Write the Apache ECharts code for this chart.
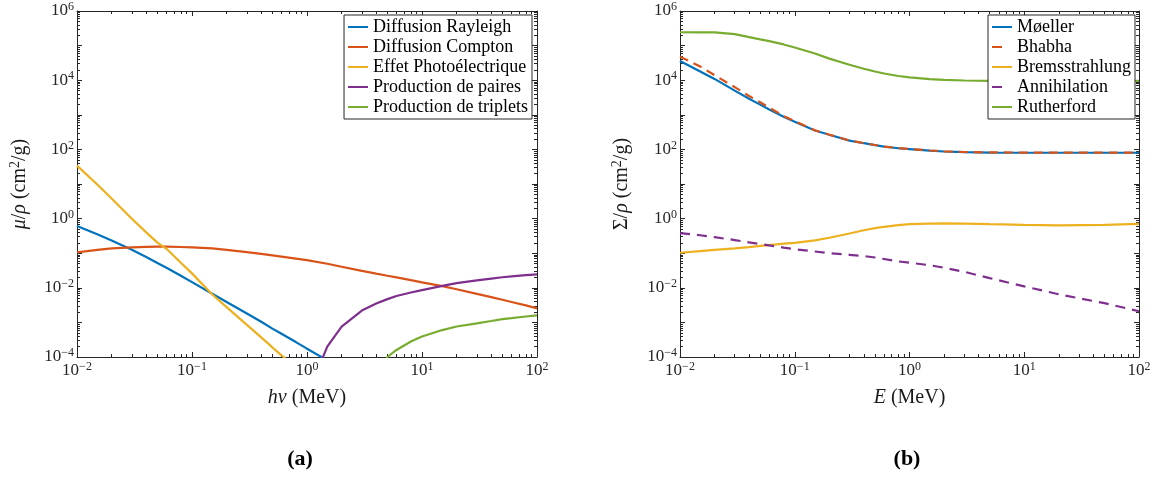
<!DOCTYPE html>
<html><head><meta charset="utf-8">
<script src="https://cdn.jsdelivr.net/npm/echarts@6/dist/echarts.min.js"></script>
<style>html,body{margin:0;padding:0;background:#fff}#c{width:1158px;height:477px}</style>
</head><body><div id="c"></div>
<script>
// ---------- Data: panel (a) photons, mu/rho (cm^2/g) vs h nu (MeV) ----------
const rayleighE = [0.01,0.015,0.02,0.03,0.04,0.05,0.06,0.08,0.1,0.15,0.2,0.3,0.4,0.5,0.6,0.8,1,1.5];
const rayleigh  = [0.61,0.353,0.232,0.126,0.078,0.052,0.038,0.0223,0.0146,6.7e-3,3.9e-3,1.8e-3,1.04e-3,6.6e-4,4.7e-4,2.7e-4,1.74e-4,8e-5];
const comptonE  = [0.01,0.015,0.02,0.03,0.04,0.05,0.06,0.08,0.1,0.15,0.2,0.3,0.4,0.5,0.6,0.8,1,1.5,2,3,4,5,6,8,10,15,20,30,40,50,60,80,100];
const compton   = [0.106,0.125,0.137,0.148,0.152,0.154,0.154,0.151,0.148,0.137,0.125,0.108,0.096,0.087,0.080,0.070,0.063,0.0495,0.0407,0.031,0.0257,0.0223,0.020,0.0166,0.0144,0.0112,9.1e-3,6.7e-3,5.4e-3,4.5e-3,3.9e-3,3.1e-3,2.55e-3];
const photoE    = [0.01,0.015,0.02,0.03,0.04,0.05,0.06,0.08,0.1,0.15,0.2,0.3,0.4,0.5,0.6,0.8];
const photo     = [34,9.7,3.8,0.99,0.40,0.202,0.134,0.053,0.0261,6.4e-3,2.75e-3,8.5e-4,3.7e-4,1.9e-4,1.12e-4,4.8e-5];
const pairE     = [1.25,1.5,2,3,4,5,6,8,10,15,20,30,40,50,60,80,100];
const pair      = [4.5e-5,2.0e-4,7.5e-4,2.2e-3,3.5e-3,4.7e-3,5.8e-3,7.3e-3,8.6e-3,0.0114,0.0137,0.0164,0.0185,0.0202,0.0214,0.0232,0.0245];
const tripletE  = [4,5,6,8,10,15,20,30,40,50,60,80,100];
const triplet   = [3e-5,1.0e-4,1.6e-4,2.8e-4,3.9e-4,6.0e-4,7.6e-4,9.4e-4,1.1e-3,1.25e-3,1.33e-3,1.48e-3,1.6e-3];
const namesA    = ['Diffusion Rayleigh','Diffusion Compton','Effet Photoélectrique','Production de paires','Production de triplets'];

// ---------- Data: panel (b) electrons, Sigma/rho (cm^2/g) vs E (MeV) ----------
const energyB    = [0.01,0.015,0.02,0.03,0.04,0.05,0.06,0.08,0.1,0.15,0.2,0.3,0.4,0.5,0.6,0.8,1,1.5,2,3,5,10,20,50,100];
const moller     = [3.6e4,1.79e4,1.09e4,5.0e3,2.9e3,1.97e3,1.43e3,877,630,351,264,180,151,133,120,108,102,92,87,83,81,80,80,80,80];
const bhabha     = [4.8e4,2.5e4,1.4e4,6.3e3,3.5e3,2.3e3,1.6e3,920,660,355,266,181,152,134,121,109,103,93,88,84,82,81,81,81,81];
const brems      = [0.103,0.115,0.124,0.137,0.150,0.163,0.172,0.188,0.20,0.235,0.28,0.37,0.46,0.53,0.58,0.65,0.69,0.72,0.73,0.72,0.69,0.66,0.64,0.655,0.70];
const annihil    = [0.38,0.33,0.29,0.24,0.205,0.185,0.168,0.145,0.13,0.112,0.10,0.09,0.083,0.075,0.068,0.058,0.053,0.045,0.038,0.029,0.019,0.011,0.0065,0.0036,0.0021];
const rutherford = [2.43e5,2.42e5,2.4e5,2.14e5,1.75e5,1.51e5,1.35e5,1.08e5,8.8e4,5.9e4,4.2e4,2.8e4,2.15e4,1.78e4,1.56e4,1.32e4,1.2e4,1.08e4,1.02e4,9.8e3,9.6e3,9.5e3,9.5e3,9.5e3,9.5e3];
const namesB     = ['Møeller','Bhabha','Bremsstrahlung','Annihilation','Rutherford'];

// tick exponents
const xExpMin = -2, xExpMax = 2;
const yExpMin = -4, yExpMax = 6;

// ---------- styling ----------
const FONT = 'Liberation Serif';
const AX = '#262626';
const COLORS = ['#0072BD','#D95319','#EDB120','#7E2F8E','#77AC30'];
const LW = 2.2;
const DASH_B = [9,6], DASH_A = [10,7];

function pairs(xs, ys){ return xs.map((x,i)=>[x, ys[i]]); }
function expText(e){ return e < 0 ? '\u2212' + (-e) : String(e); }
function xLabel(v){ const e = Math.round(v); return '{b|10}{s|' + expText(e) + '}'; }
function yLabel(v){ const e = Math.round(v); return (e % 2 === 0) ? '{b|10}{s|' + expText(e) + '}' : ''; }
function minorTicks(a, b){ const out=[]; for(let d=a; d<b; d++) for(let k=2;k<=9;k++) out.push(d+Math.log10(k)); return out; }

const labelRich = {
  b:{fontFamily:FONT, fontSize:17, color:AX, lineHeight:20, verticalAlign:'middle'},
  s:{fontFamily:FONT, fontSize:12, color:AX, lineHeight:12, verticalAlign:'top'}
};
const nameStyle = {
  fontFamily:FONT, fontSize:20, color:'#1a1a1a', lineHeight:24,
  rich:{
    i:{fontFamily:FONT, fontSize:20, fontStyle:'italic', color:'#1a1a1a', lineHeight:24, verticalAlign:'middle'},
    n:{fontFamily:FONT, fontSize:20, color:'#1a1a1a', lineHeight:24, verticalAlign:'middle'},
    s:{fontFamily:FONT, fontSize:14, color:'#1a1a1a', lineHeight:14, verticalAlign:'top'}
  }
};
const lineS = {color:AX, width:1};

function axesFor(dim, g, name, nameGap){
  const isX = dim === 'x';
  const lo = isX ? xExpMin : yExpMin, hi = isX ? xExpMax : yExpMax;
  const p1 = isX ? 'bottom' : 'left', p2 = isX ? 'top' : 'right';
  const minors = minorTicks(lo, hi);
  const base = {type:'value', gridIndex:g, min:lo, max:hi, splitLine:{show:false}};
  return [
    {type:'log', logBase:10, gridIndex:g, min:Math.pow(10,lo), max:Math.pow(10,hi), show:false},
    Object.assign({}, base, {
      position:p1, interval:1,
      name:name, nameLocation:'middle', nameGap:nameGap, nameTextStyle:nameStyle,
      axisLine:{show:true, onZero:false, lineStyle:lineS},
      axisTick:{show:true, inside:true, length:5, lineStyle:lineS},
      axisLabel:{show:true, formatter: isX ? xLabel : yLabel, margin: isX ? 4 : 3, rich:labelRich}
    }),
    Object.assign({}, base, {
      position:p1,
      axisLine:{show:false, onZero:false},
      axisTick:{show:true, inside:true, length:3, customValues:minors, lineStyle:lineS},
      axisLabel:{show:false}
    }),
    Object.assign({}, base, {
      position:p2, interval:1,
      axisLine:{show:true, onZero:false, lineStyle:lineS},
      axisTick:{show:true, inside:true, length:5, lineStyle:lineS},
      axisLabel:{show:false}
    }),
    Object.assign({}, base, {
      position:p2,
      axisLine:{show:false, onZero:false},
      axisTick:{show:true, inside:true, length:3, customValues:minors, lineStyle:lineS},
      axisLabel:{show:false}
    })
  ];
}

function lineSeries(name, data, g, color, dash){
  return {
    name, type:'line', data, xAxisIndex:5*g, yAxisIndex:5*g,
    symbol:'none', showSymbol:false, smooth:false, clip:true, animation:false,
    lineStyle:{color, width:LW, type: dash || 'solid', cap:'butt'},
    itemStyle:{color}
  };
}

function legendFor(items, right){
  return {
    data:items, orient:'vertical', right:right, top:15,
    itemWidth:20, itemHeight:10, itemGap:0,
    padding:[2,4,2,3],
    borderColor:AX, borderWidth:1, borderRadius:0, backgroundColor:'#fff',
    selectedMode:false,
    itemStyle:{opacity:0},
    textStyle:{fontFamily:FONT, fontSize:18, color:'#000', lineHeight:20}
  };
}

const legendItemsB = namesB.map(n => (n === namesB[1] || n === namesB[3])
  ? {name:n, lineStyle:{type:[10, 20]}} : {name:n});

const chart = echarts.init(document.getElementById('c'), null, {renderer:'canvas'});
chart.setOption({
  animation:false,
  backgroundColor:'#fff',
  grid:[
    {left:77, top:11, width:460, height:346, containLabel:false, outerBoundsMode:'none'},
    {left:680, top:11, width:459, height:346, containLabel:false, outerBoundsMode:'none'}
  ],
  xAxis: [].concat(
    axesFor('x', 0, '{i|hν} (MeV)', 29),
    axesFor('x', 1, '{i|E} (MeV)', 29)
  ),
  yAxis: [].concat(
    axesFor('y', 0, '{i|μ}/{i|ρ} (cm{s|2}/g)', 45),
    axesFor('y', 1, '{n|Σ}/{i|ρ} (cm{s|2}/g)', 46)
  ),
  legend:[ legendFor(namesA, 626), legendFor(legendItemsB, 23) ],
  series:[
    lineSeries(namesA[0], pairs(rayleighE, rayleigh), 0, COLORS[0]),
    lineSeries(namesA[1], pairs(comptonE, compton), 0, COLORS[1]),
    lineSeries(namesA[2], pairs(photoE, photo), 0, COLORS[2]),
    lineSeries(namesA[3], pairs(pairE, pair), 0, COLORS[3]),
    lineSeries(namesA[4], pairs(tripletE, triplet), 0, COLORS[4]),
    lineSeries(namesB[0], pairs(energyB, moller), 1, COLORS[0]),
    lineSeries(namesB[1], pairs(energyB, bhabha), 1, COLORS[1], DASH_B),
    lineSeries(namesB[2], pairs(energyB, brems), 1, COLORS[2]),
    lineSeries(namesB[3], pairs(energyB, annihil), 1, COLORS[3], DASH_A),
    lineSeries(namesB[4], pairs(energyB, rutherford), 1, COLORS[4])
  ],
  graphic:[
    {type:'text', x:300, y:459, style:{text:'(a)', font:'bold 22px "Liberation Serif"', fill:'#000', align:'center', verticalAlign:'middle'}},
    {type:'text', x:907, y:459, style:{text:'(b)', font:'bold 22px "Liberation Serif"', fill:'#000', align:'center', verticalAlign:'middle'}}
  ]
});
</script>
</body></html>
